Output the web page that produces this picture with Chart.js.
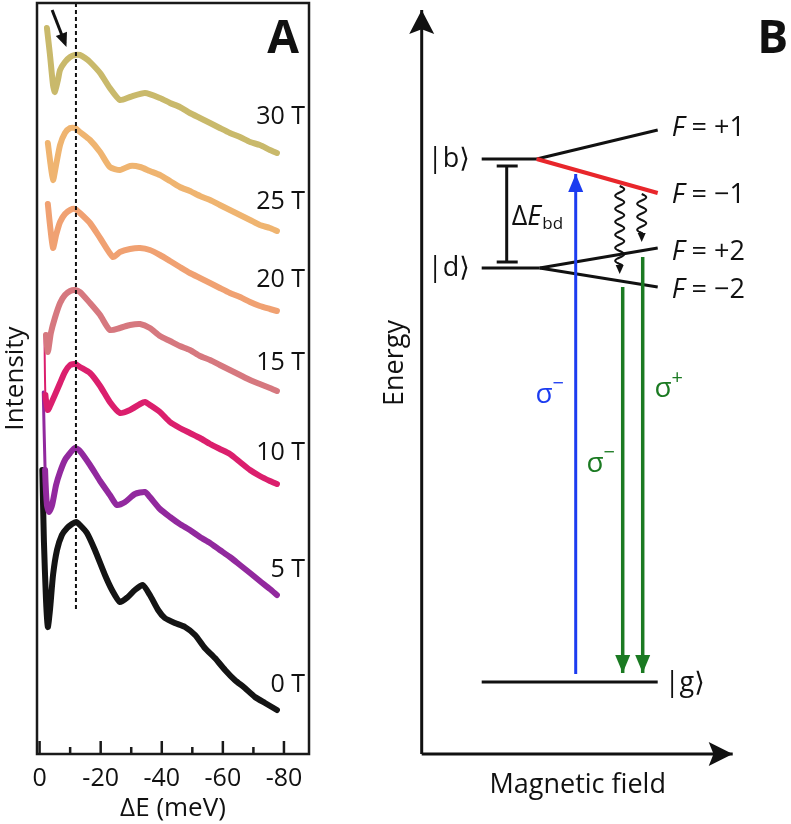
<!DOCTYPE html>
<html>
<head>
<meta charset="utf-8">
<script src="https://cdn.jsdelivr.net/npm/chart.js@4.4.1/dist/chart.umd.min.js"></script>
<style>
  body { margin: 0; background: #fff; }
  #wrap { position: relative; width: 791px; height: 824px; overflow: hidden; }
  #chartA { position: absolute; left: 0; top: 0; }
  #chartB { position: absolute; left: 330px; top: 0; }
</style>
</head>
<body>
<div id="wrap">
  <canvas id="chartA" width="330" height="824" style="width:330px;height:824px"></canvas>
  <canvas id="chartB" width="461" height="824" style="width:461px;height:824px"></canvas>
</div>
<script>
"use strict";

// ---------- Panel A: spectra, [ΔE (meV), intensity (arb., curves offset)] ----------
const fieldLabels = ["30 T", "25 T", "20 T", "15 T", "10 T", "5 T", "0 T"];
const fieldColors = ["#c9b96b", "#efb470", "#f0a172", "#d6787f", "#db1f6d", "#92299e", "#141414"];

const spec30T = [[-2.4, 72.6], [-3.4, 69.9], [-4.4, 66.9], [-5.0, 66.2], [-6.0, 67.4], [-6.7, 68.4], [-8.3, 69.2],
  [-10.0, 69.7], [-11.6, 69.9], [-13.2, 69.9], [-14.9, 69.6], [-16.5, 69.2], [-19.8, 68.1], [-23.0, 66.6],
  [-26.3, 65.4], [-29.6, 65.7], [-34.5, 66.1], [-39.4, 65.6], [-42.7, 65.1], [-45.9, 64.7], [-49.2, 64.1],
  [-52.5, 63.6], [-55.8, 63.1], [-59.0, 62.6], [-62.3, 62.1], [-65.6, 61.7], [-68.9, 61.2], [-72.1, 60.9],
  [-75.4, 60.4], [-77.7, 60.1]];
const spec25T = [[-2.7, 61.1], [-3.4, 59.4], [-4.4, 57.4], [-5.4, 58.9], [-6.7, 60.9], [-8.3, 62.1], [-10.0, 62.6],
  [-11.6, 62.6], [-13.2, 62.2], [-16.5, 61.4], [-19.8, 60.2], [-23.0, 58.7], [-26.3, 58.4], [-29.6, 58.8],
  [-32.9, 58.7], [-36.1, 58.3], [-39.4, 57.9], [-42.7, 57.3], [-45.9, 56.7], [-49.2, 56.3], [-52.5, 55.8],
  [-55.8, 55.4], [-59.0, 54.9], [-62.3, 54.4], [-65.6, 53.9], [-68.9, 53.4], [-72.1, 52.9], [-75.4, 52.6],
  [-77.7, 52.3]];
const spec20T = [[-2.7, 55.0], [-3.4, 52.9], [-4.4, 50.6], [-5.4, 51.9], [-6.7, 53.2], [-8.3, 54.0], [-10.0, 54.4],
  [-11.6, 54.5], [-13.2, 54.1], [-16.5, 53.1], [-19.8, 51.6], [-24.0, 49.7], [-26.3, 50.2], [-29.6, 50.5],
  [-32.9, 50.6], [-36.1, 50.4], [-39.4, 49.9], [-42.7, 49.3], [-45.9, 48.7], [-49.2, 48.1], [-52.5, 47.6],
  [-55.8, 47.1], [-59.0, 46.6], [-62.3, 46.1], [-65.6, 45.7], [-68.9, 45.2], [-72.1, 44.8], [-75.4, 44.5],
  [-77.7, 44.3]];
const spec15T = [[-2.1, 41.9], [-2.7, 40.2], [-3.7, 42.1], [-5.0, 43.6], [-6.7, 45.1], [-8.3, 45.9], [-10.0, 46.3],
  [-11.6, 46.4], [-13.2, 46.2], [-16.5, 45.1], [-19.8, 43.9], [-23.0, 42.4], [-26.3, 42.6], [-29.6, 42.9],
  [-32.9, 43.0], [-36.1, 42.6], [-39.4, 41.8], [-42.7, 41.3], [-45.9, 40.8], [-49.2, 40.4], [-52.5, 39.8],
  [-55.8, 39.4], [-59.0, 38.9], [-62.3, 38.4], [-65.6, 37.9], [-68.9, 37.4], [-72.1, 37.0], [-75.4, 36.6],
  [-77.7, 36.3]];
const spec10T = [[-1.6, 41.9], [-1.9, 35.9], [-2.7, 34.4], [-3.4, 34.8], [-5.0, 35.9], [-6.7, 37.1], [-8.3, 38.2],
  [-10.0, 38.9], [-11.6, 39.0], [-13.2, 38.7], [-16.5, 38.1], [-19.8, 36.8], [-23.0, 35.2], [-26.3, 34.1],
  [-29.6, 34.4], [-32.9, 35.0], [-34.5, 35.2], [-36.1, 34.9], [-39.4, 34.2], [-42.7, 33.2], [-45.9, 32.6],
  [-49.2, 32.1], [-52.5, 31.6], [-55.8, 31.0], [-59.0, 30.5], [-62.3, 30.0], [-65.6, 29.2], [-68.9, 28.4],
  [-72.1, 27.8], [-75.4, 27.3], [-77.7, 27.0]];
const spec5T = [[-1.2, 36.2], [-1.8, 28.4], [-2.4, 24.9], [-3.1, 24.2], [-4.1, 24.9], [-5.4, 26.9], [-6.7, 28.2],
  [-8.3, 29.4], [-10.0, 30.1], [-11.6, 30.6], [-13.2, 30.3], [-16.5, 28.9], [-19.8, 27.3], [-23.0, 25.9],
  [-25.3, 24.9], [-28.0, 25.2], [-31.2, 26.0], [-34.5, 26.2], [-36.1, 25.7], [-39.4, 24.5], [-42.7, 23.7],
  [-45.9, 23.0], [-49.2, 22.4], [-52.5, 21.7], [-55.8, 21.1], [-59.0, 20.4], [-62.3, 19.7], [-65.6, 18.9],
  [-68.9, 18.1], [-72.1, 17.3], [-75.4, 16.5], [-77.7, 15.9]];
const spec0T = [[-0.9, 28.4], [-1.4, 21.4], [-2.1, 15.4], [-2.7, 12.7], [-3.4, 14.4], [-4.4, 17.9], [-5.7, 20.4],
  [-7.3, 21.9], [-9.0, 22.6], [-10.6, 23.0], [-11.9, 23.2], [-13.2, 22.9], [-15.5, 22.1], [-18.1, 20.4],
  [-21.4, 17.9], [-23.7, 16.4], [-26.3, 15.2], [-28.9, 15.7], [-31.2, 16.4], [-33.8, 16.9], [-36.1, 15.9],
  [-38.8, 14.4], [-41.0, 13.6], [-44.3, 13.1], [-47.6, 12.7], [-50.9, 11.9], [-54.1, 10.6], [-57.4, 9.6],
  [-60.7, 8.4], [-63.9, 7.4], [-67.2, 6.6], [-70.5, 5.7], [-73.8, 5.1], [-77.7, 4.4]];
const spectra = [spec30T, spec25T, spec20T, spec15T, spec10T, spec5T, spec0T];

const xMajorTicks = [0, -20, -40, -60, -80];
const xMinorTicks = [-10, -30, -50, -70];
const peakEnergy = -11.9;            // dashed marker
const peakLineSpan = [75.1, 14.4];   // intensity range of the dashed marker
const onsetArrow = [[-4.1, 74.4], [-8.3, 71.1]];

// ---------- Panel B: level scheme, [field (arb.), energy (arb.)] ----------
const energyAxis = [[0, 0], [0, 74.4]];
const fieldAxis = [[0, 0], [31.1, 0]];
const levelB = [[6.0, 59.5], [11.5, 59.5]];
const levelBPlus1 = [[11.5, 59.5], [23.6, 62.4]];
const levelBMinus1 = [[11.5, 59.5], [23.6, 56.1]];
const levelD = [[6.0, 48.6], [11.8, 48.6]];
const levelDPlus2 = [[11.8, 48.6], [23.6, 50.6]];
const levelDMinus2 = [[11.8, 48.6], [23.6, 46.7]];
const levelG = [[6.0, 7.2], [23.6, 7.2]];
const gapBar = [[8.5, 58.8], [8.5, 49.2]];
const gapCapTop = [[7.5, 58.8], [9.6, 58.8]];
const gapCapBottom = [[7.5, 49.2], [9.6, 49.2]];
const absorption = [[15.4, 8.0], [15.4, 58.0]];
const emissionMinus = [[20.1, 46.7], [20.1, 8.1]];
const emissionPlus = [[22.1, 49.7], [22.1, 8.1]];
const relaxLong = [[19.8, 56.8], [19.8, 48.0]];
const relaxShort = [[22.0, 56.0], [22.0, 51.2]];

// ---------- look ----------
const FAMILY = '"Open Sans", "DejaVu Sans", sans-serif';
const INK = "#111";
const BLUE = "#1c3cf0";
const GREEN = "#1b7a22";
const RED = "#e8262b";

Chart.defaults.font.family = FAMILY;
Chart.defaults.color = INK;

const toXY = pts => pts.map(p => ({ x: p[0], y: p[1] }));

// draw a row of text runs (for italics, sub/superscripts)
function drawRuns(ctx, runs, x, y, align, color) {
  const fonts = runs.map(r => `${r.italic ? "italic " : ""}${r.bold ? "bold " : ""}${r.size}px ${FAMILY}`);
  let total = 0;
  const widths = runs.map((r, i) => {
    ctx.font = fonts[i];
    const w = ctx.measureText(r.text).width + (r.gap || 0);
    total += w;
    return w;
  });
  let cx = align === "right" ? x - total : align === "center" ? x - total / 2 : x;
  ctx.textAlign = "left";
  ctx.textBaseline = "middle";
  ctx.fillStyle = color;
  runs.forEach((r, i) => {
    ctx.font = fonts[i];
    ctx.fillText(r.text, cx, y + (r.dy || 0));
    cx += widths[i];
  });
}

function arrowHead(ctx, x0, y0, x1, y1, len, half, notch, color) {
  const dx = x1 - x0, dy = y1 - y0, d = Math.hypot(dx, dy);
  const ux = dx / d, uy = dy / d;
  const bx = x1 - ux * len, by = y1 - uy * len;
  ctx.beginPath();
  ctx.moveTo(x1, y1);
  ctx.lineTo(bx - uy * half, by + ux * half);
  ctx.lineTo(x1 - ux * len * notch, y1 - uy * len * notch);
  ctx.lineTo(bx + uy * half, by - ux * half);
  ctx.closePath();
  ctx.fillStyle = color;
  ctx.fill();
}

// arrowheads for any dataset that asks for one
const arrowPlugin = {
  id: "arrowHeads",
  afterDatasetsDraw(chart) {
    const ctx = chart.ctx;
    chart.data.datasets.forEach((ds, i) => {
      if (!ds.arrow) return;
      const pts = chart.getDatasetMeta(i).data;
      const a = pts[pts.length - 2], b = pts[pts.length - 1];
      ctx.save();
      arrowHead(ctx, a.x, a.y, b.x, b.y, ds.arrow.len, ds.arrow.half, ds.arrow.notch || 1, ds.borderColor);
      ctx.restore();
    });
  }
};

// ---------- panel A chart ----------
const labelAnchorA = { x: -86.9, y: [63.7, 55.2, 47.4, 39.1, 30.1, 18.4, 6.9] };

const panelAExtras = {
  id: "panelAExtras",
  afterDraw(chart) {
    const { ctx, chartArea: a, scales: { x, y } } = chart;
    ctx.save();
    ctx.strokeStyle = "#1a1a1a";
    ctx.lineWidth = 2.5;
    ctx.strokeRect(a.left, a.top, a.right - a.left, a.bottom - a.top);
    ctx.beginPath();
    xMajorTicks.forEach(v => {
      const px = x.getPixelForValue(v);
      ctx.moveTo(px, a.bottom); ctx.lineTo(px, a.bottom - 13);
    });
    xMinorTicks.forEach(v => {
      const px = x.getPixelForValue(v);
      ctx.moveTo(px, a.bottom); ctx.lineTo(px, a.bottom - 7);
    });
    ctx.stroke();

    // marker arrow at the onset
    const [p0, p1] = onsetArrow.map(p => [x.getPixelForValue(p[0]), y.getPixelForValue(p[1])]);
    ctx.strokeStyle = INK;
    ctx.lineWidth = 3;
    ctx.beginPath();
    ctx.moveTo(p0[0], p0[1]);
    ctx.lineTo(p1[0], p1[1]);
    ctx.stroke();
    arrowHead(ctx, p0[0], p0[1], p1[0] + 1.5, p1[1] + 4, 14, 6, 1, INK);

    fieldLabels.forEach((t, i) => {
      drawRuns(ctx, [{ text: t, size: 25 }], x.getPixelForValue(labelAnchorA.x),
        y.getPixelForValue(labelAnchorA.y[i]), "right", INK);
    });
    drawRuns(ctx, [{ text: "A", size: 46, bold: true }], x.getPixelForValue(-79.7), y.getPixelForValue(71.4), "center", INK);
    ctx.restore();
  }
};

const datasetsA = [{
  label: "peak",
  data: toXY([[peakEnergy, peakLineSpan[0]], [peakEnergy, peakLineSpan[1]]]),
  showLine: true, borderColor: INK, borderWidth: 2, borderDash: [4, 3], pointRadius: 0
}].concat(spectra.map((s, i) => ({
  label: fieldLabels[i],
  data: toXY(s),
  showLine: true,
  borderColor: fieldColors[i],
  borderWidth: 6,
  borderJoinStyle: "round",
  borderCapStyle: "round",
  pointRadius: 0,
  tension: 0.2,
  segment: i === 4 ? { borderWidth: c => (c.p0DataIndex === 0 ? 2 : 6) } : (i === 5 ? { borderWidth: c => (c.p0DataIndex === 0 ? 3 : 6) } : undefined)
})));

new Chart(document.getElementById("chartA"), {
  type: "scatter",
  data: { datasets: datasetsA },
  options: {
    responsive: false,
    animation: false,
    layout: { padding: { top: 3, right: 21, left: 0, bottom: 0 } },
    plugins: { legend: { display: false }, tooltip: { enabled: false } },
    scales: {
      x: {
        type: "linear", reverse: true, min: -88.2, max: 0.85,
        afterBuildTicks: s => { s.ticks = xMajorTicks.map(v => ({ value: v })); },
        afterFit: s => { s.height = 70; },
        grid: { display: false, drawTicks: false },
        border: { display: false },
        ticks: { color: INK, font: { size: 25 }, padding: 10, maxRotation: 0, autoSkip: false, callback: v => String(v) },
        title: { display: true, text: "ΔE (meV)", color: INK, font: { size: 26 }, padding: { top: 0, bottom: 0 } }
      },
      y: {
        min: 0, max: 75.1,
        afterFit: s => { s.width = 37; },
        grid: { display: false }, border: { display: false },
        ticks: { display: false },
        title: { display: true, text: "Intensity", color: INK, font: { size: 26 }, padding: 0 }
      }
    }
  },
  plugins: [panelAExtras]
});

// ---------- panel B chart ----------
const line = (pts, color, width, extra) => Object.assign({
  data: toXY(pts), showLine: true, borderColor: color, borderWidth: width, pointRadius: 0, fill: false
}, extra || {});

const datasetsB = [
  line(levelBMinus1, RED, 4),
  line(absorption, BLUE, 3, { arrow: { len: 18, half: 7.5 } }),
  line(emissionMinus, GREEN, 3.5, { arrow: { len: 18, half: 7.5 } }),
  line(emissionPlus, GREEN, 3.5, { arrow: { len: 18, half: 7.5 } }),
  line(levelB, INK, 3), line(levelBPlus1, INK, 3),
  line(levelD, INK, 3), line(levelDPlus2, INK, 3), line(levelDMinus2, INK, 3),
  line(levelG, INK, 3),
  line(gapBar, INK, 3), line(gapCapTop, INK, 3), line(gapCapBottom, INK, 3),
  line(energyAxis, INK, 3, { arrow: { len: 24, half: 12.5, notch: 0.8 } }),
  line(fieldAxis, INK, 3, { arrow: { len: 24, half: 12, notch: 0.8 } })
];

const labelsB = [
  { at: [4.8, 59.5], align: "right", runs: [{ text: "|b⟩", size: 27 }] },
  { at: [4.8, 48.6], align: "right", runs: [{ text: "|d⟩", size: 27 }] },
  { at: [24.3, 7.1], align: "left", runs: [{ text: "|g⟩", size: 27 }] },
  { at: [25.0, 62.6], align: "left", runs: [{ text: "F", size: 27, italic: true }, { text: " = +1", size: 27 }] },
  { at: [25.0, 55.9], align: "left", runs: [{ text: "F", size: 27, italic: true }, { text: " = −1", size: 27 }] },
  { at: [25.0, 50.2], align: "left", runs: [{ text: "F", size: 27, italic: true }, { text: " = +2", size: 27 }] },
  { at: [25.0, 46.4], align: "left", runs: [{ text: "F", size: 27, italic: true }, { text: " = −2", size: 27 }] },
  { at: [9.0, 53.7], align: "left", runs: [{ text: "Δ", size: 27 }, { text: "E", size: 27, italic: true, gap: 1 }, { text: "bd", size: 17, dy: 7 }] },
  { at: [12.8, 35.9], align: "center", color: BLUE, runs: [{ text: "σ", size: 28 }, { text: "−", size: 20, dy: -11 }] },
  { at: [17.9, 29.0], align: "center", color: GREEN, runs: [{ text: "σ", size: 28 }, { text: "−", size: 20, dy: -11 }] },
  { at: [24.7, 36.5], align: "center", color: GREEN, runs: [{ text: "σ", size: 28 }, { text: "+", size: 20, dy: -11 }] },
  { at: [15.6, -3.1], align: "center", runs: [{ text: "Magnetic field", size: 27 }] },
  { at: [35.1, 71.4], align: "center", runs: [{ text: "B", size: 46, bold: true }] }
];

const panelBExtras = {
  id: "panelBExtras",
  afterDraw(chart) {
    const { ctx, scales: { x, y } } = chart;
    ctx.save();
    // wavy relaxation arrows
    [relaxLong, relaxShort].forEach(r => {
      const x0 = x.getPixelForValue(r[0][0]), y0 = y.getPixelForValue(r[0][1]);
      const x1 = x.getPixelForValue(r[1][0]), y1 = y.getPixelForValue(r[1][1]);
      const len = Math.hypot(x1 - x0, y1 - y0) - 8;
      ctx.strokeStyle = INK;
      ctx.lineWidth = 2;
      ctx.beginPath();
      for (let s = 0; s <= len; s += 0.5) {
        const px = x0 + 4.5 * Math.sin((s / 13) * 2 * Math.PI);
        if (s === 0) ctx.moveTo(px, y0 + s); else ctx.lineTo(px, y0 + s);
      }
      ctx.stroke();
      arrowHead(ctx, x1, y1 - 10, x1, y1, 9, 4, 1, INK);
    });
    labelsB.forEach(l => {
      drawRuns(ctx, l.runs, x.getPixelForValue(l.at[0]), y.getPixelForValue(l.at[1]), l.align, l.color || INK);
    });
    // axis title, rotated
    ctx.translate(x.getPixelForValue(-2.67), y.getPixelForValue(39.1));
    ctx.rotate(-Math.PI / 2);
    drawRuns(ctx, [{ text: "Energy", size: 27 }], 0, 0, "center", INK);
    ctx.restore();
  }
};

new Chart(document.getElementById("chartB"), {
  type: "scatter",
  data: { datasets: datasetsB },
  options: {
    responsive: false,
    animation: false,
    layout: { padding: 0 },
    plugins: { legend: { display: false }, tooltip: { enabled: false } },
    scales: {
      x: { type: "linear", display: false, min: -9.17, max: 36.93 },
      y: { type: "linear", display: false, min: -7.0, max: 75.4 }
    }
  },
  plugins: [arrowPlugin, panelBExtras]
});
</script>
</body>
</html>
